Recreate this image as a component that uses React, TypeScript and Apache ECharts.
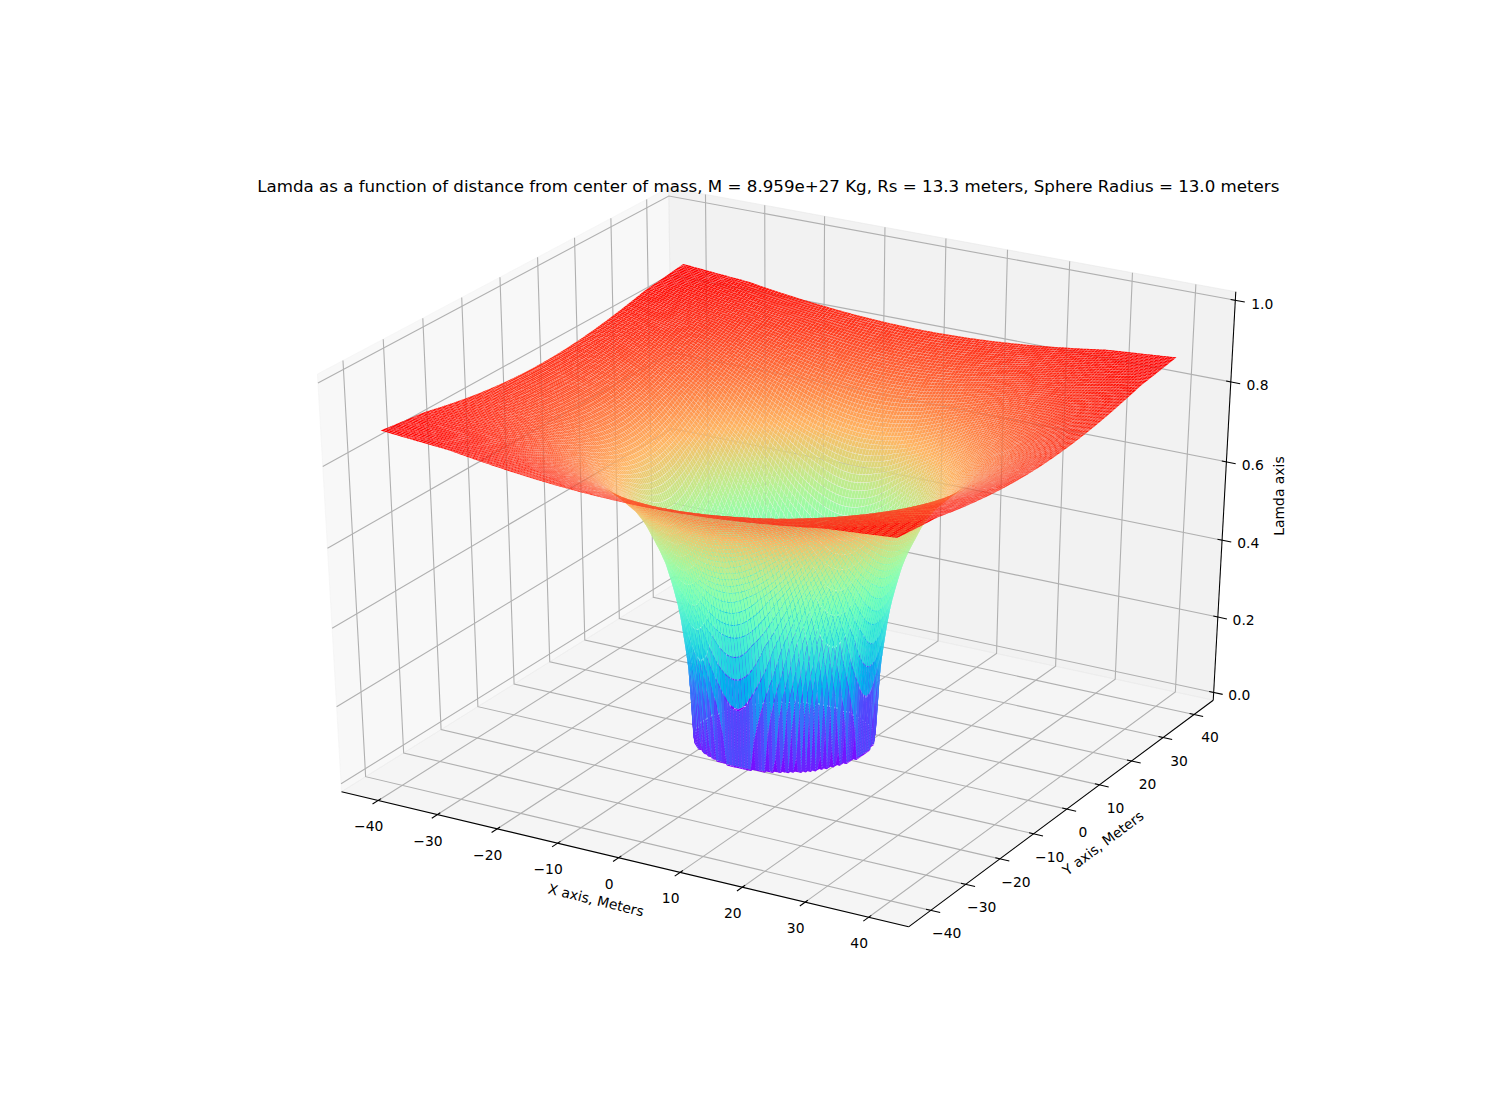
import React, { useEffect, useRef } from "react";
import * as echarts from "echarts";

const titleText =
  "Lamda as a function of distance from center of mass, M = 8.959e+27 Kg, Rs = 13.3 meters, Sphere Radius = 13.0 meters";
const xTicks = [-40, -30, -20, -10, 0, 10, 20, 30, 40];
const yTicks = [-40, -30, -20, -10, 0, 10, 20, 30, 40];
const zTicks = [0, 0.2, 0.4, 0.6, 0.8, 1.0];
const xAxisName = "X axis, Meters";
const yAxisName = "Y axis, Meters";
const zAxisName = "Lamda axis";

// radial profile: distance from the centre -> lamda
const profileRadius = [0, 13.3, 13.35, 13.4, 13.5, 13.6, 13.8, 14, 14.5, 15, 16, 17, 18, 20, 22, 25, 28, 32, 36, 40, 45, 50, 58];
const profileLamda = [0, 0, 0.06, 0.09, 0.12, 0.15, 0.19, 0.22, 0.28, 0.34, 0.41, 0.47, 0.51, 0.58, 0.63, 0.68, 0.725, 0.765, 0.795, 0.82, 0.84, 0.86, 0.875];

const surfaceHalf = 40.4;
const surfaceCells = 160;
const limHalf = 44.4;
const cellShrink = 0.95;
const FONT = "DejaVu Sans";
const FS = 13.89;

const RAD = Math.PI / 180;
const margin = 1 / 48;
const loX = -limHalf, hiX = limHalf;
const spanX = hiX - loX;
const boxLo = loX - spanX * margin, boxHi = hiX + spanX * margin;
const boxZLo = -margin, boxZHi = 1 + margin;

function viewOf(x: number, y: number, z: number) {
  const a = (x - loX) / spanX - 0.5;
  const b = (y - loX) / spanX - 0.5;
  const c = z - 0.5;
  const el = 30 * RAD, az = -60 * RAD;
  const n = [Math.cos(az) * Math.cos(el), Math.sin(az) * Math.cos(el), Math.sin(el)];
  const u = [-Math.sin(az), Math.cos(az), 0];
  const v = [n[1] * u[2] - n[2] * u[1], n[2] * u[0] - n[0] * u[2], n[0] * u[1] - n[1] * u[0]];
  return [u[0] * a + u[1] * b, v[0] * a + v[1] * b + v[2] * c, n[0] * a + n[1] * b + n[2] * c];
}
function project(x: number, y: number, z: number) {
  const [xv, yv, zv] = viewOf(x, y, z);
  const w = 10 - zv;
  return [784.4 + 6284 * (xv / w), 544.1 - 4575 * (yv / w)];
}
function lamdaAt(r: number) {
  const n = profileRadius.length;
  if (r <= profileRadius[0]) return profileLamda[0];
  if (r >= profileRadius[n - 1]) return profileLamda[n - 1];
  for (let i = 1; i < n; i++) {
    if (r <= profileRadius[i]) {
      const t = (r - profileRadius[i - 1]) / (profileRadius[i] - profileRadius[i - 1]);
      return profileLamda[i - 1] + t * (profileLamda[i] - profileLamda[i - 1]);
    }
  }
  return profileLamda[n - 1];
}
function rainbow(t: number) {
  const q = Math.round(Math.max(0, Math.min(1, t)) * 255) / 255;
  const r = Math.min(1, Math.abs(2 * q - 0.5));
  const g = Math.sin(Math.PI * q);
  const b = Math.cos((Math.PI * q) / 2);
  return `rgb(${Math.round(r * 255)},${Math.round(g * 255)},${Math.round(b * 255)})`;
}

function buildCells() {
  const step = (2 * surfaceHalf) / surfaceCells;
  const cells: { value: number[]; depth: number }[] = [];
  let lo = Infinity, hi = -Infinity;
  for (let i = 0; i < surfaceCells; i++) {
    for (let j = 0; j < surfaceCells; j++) {
      const x0 = -surfaceHalf + i * step, x1 = x0 + step;
      const y0 = -surfaceHalf + j * step, y1 = y0 + step;
      const rs = [Math.hypot(x0, y0), Math.hypot(x1, y0), Math.hypot(x1, y1), Math.hypot(x0, y1)];
      const zs = rs.map(lamdaAt);
      const avg = (zs[0] + zs[1] + zs[2] + zs[3]) / 4;
      lo = Math.min(lo, avg);
      hi = Math.max(hi, avg);
      const depth = viewOf((x0 + x1) / 2, (y0 + y1) / 2, avg)[2];
      cells.push({ value: [x0, y0, x1, y1, zs[0], zs[1], zs[2], zs[3], avg], depth });
    }
  }
  cells.sort((p, q) => p.depth - q.depth);
  return { data: cells.map((c) => c.value), lo, hi };
}

function pts(api: any, list: number[][]) {
  return list.map((p) => api.coord(project(p[0], p[1], p[2])));
}

function lineSeries(data: number[][], color: string, width: number, z: number) {
  return {
    type: "custom",
    coordinateSystem: "cartesian2d",
    silent: true,
    clip: false,
    z,
    progressive: 0,
    data,
    renderItem: (_p: any, api: any) => {
      const raw: number[][] = [];
      for (let k = 0; k < 9; k += 3) {
        const x = api.value(k);
        if (Number.isNaN(x) || x === undefined) break;
        raw.push([x, api.value(k + 1), api.value(k + 2)]);
      }
      return {
        type: "polyline",
        shape: { points: pts(api, raw) },
        style: { stroke: color, lineWidth: width, fill: "none" },
      };
    },
  };
}

function textSeries(items: { text: string; x: number; y: number; rot: number }[], z: number) {
  return {
    type: "custom",
    coordinateSystem: "cartesian2d",
    silent: true,
    clip: false,
    z,
    data: items.map((t) => [t.x, t.y, t.rot]),
    renderItem: (p: any, api: any) => {
      const c = api.coord([api.value(0), api.value(1)]);
      return {
        type: "text",
        x: c[0],
        y: c[1],
        rotation: (api.value(2) * Math.PI) / 180,
        style: {
          text: items[p.dataIndex].text,
          fill: "#000",
          font: `${FS}px "${FONT}"`,
          textAlign: "center",
          textVerticalAlign: "middle",
        },
      };
    },
  };
}

function tickLabel(v: number) {
  return (v < 0 ? "\u2212" : "") + Math.abs(v);
}

function buildOption() {
  const delta = spanX / 12;
  const grid: number[][] = [];
  const ticks: number[][] = [];
  const labels: { text: string; x: number; y: number; rot: number }[] = [];

  xTicks.forEach((t) => {
    grid.push([t, boxLo, boxZLo, t, boxHi, boxZLo, t, boxHi, boxZHi]);
    ticks.push([t, boxLo - 0.2 * delta, boxZLo, t, boxLo + 0.1 * delta, boxZLo]);
    const p = project(t, boxLo, boxZLo);
    labels.push({ text: tickLabel(t), x: p[0] - 9.5, y: p[1] + 26, rot: 0 });
  });
  yTicks.forEach((t) => {
    grid.push([boxHi, t, boxZLo, boxLo, t, boxZLo, boxLo, t, boxZHi]);
    ticks.push([boxHi + 0.2 * delta, t, boxZLo, boxHi - 0.1 * delta, t, boxZLo]);
    const p = project(boxHi, t, boxZLo);
    labels.push({ text: tickLabel(t), x: p[0] + 16, y: p[1] + 23, rot: 0 });
  });
  zTicks.forEach((t) => {
    grid.push([boxHi, boxHi, t, boxLo, boxHi, t, boxLo, boxLo, t]);
    ticks.push([boxHi + 0.2 * delta, boxHi, t, boxHi - 0.1 * delta, boxHi, t]);
    const p = project(boxHi, boxHi, t);
    labels.push({ text: t.toFixed(1), x: p[0] + 25.5 + 1.5 * t, y: p[1] + 3 + 0.5 * t, rot: 0 });
  });
  const axisLines = [
    [boxLo, boxLo, boxZLo, boxHi, boxLo, boxZLo],
    [boxHi, boxLo, boxZLo, boxHi, boxHi, boxZLo],
    [boxHi, boxHi, boxZLo, boxHi, boxHi, boxZHi],
  ];
  labels.push({ text: xAxisName, x: 596, y: 900, rot: -13.7 });
  labels.push({ text: yAxisName, x: 1103, y: 843, rot: 36.8 });
  labels.push({ text: zAxisName, x: 1278.5, y: 496, rot: 90 });

  const panes = [
    { c: "rgba(242,242,242,0.5)", p: [[boxLo, boxLo, boxZLo], [boxLo, boxHi, boxZLo], [boxLo, boxHi, boxZHi], [boxLo, boxLo, boxZHi]] },
    { c: "rgba(230,230,230,0.5)", p: [[boxLo, boxHi, boxZLo], [boxHi, boxHi, boxZLo], [boxHi, boxHi, boxZHi], [boxLo, boxHi, boxZHi]] },
    { c: "rgba(236,236,236,0.5)", p: [[boxLo, boxLo, boxZLo], [boxHi, boxLo, boxZLo], [boxHi, boxHi, boxZLo], [boxLo, boxHi, boxZLo]] },
  ];

  const { data, lo, hi } = buildCells();

  return {
    animation: false,
    backgroundColor: "#fff",
    title: {
      text: titleText,
      left: 763.25,
      top: 173,
      textAlign: "center",
      textStyle: { fontFamily: FONT, fontSize: 16.67, fontWeight: "normal", color: "#000" },
    },
    grid: { left: 0, right: 0, top: 0, bottom: 0 },
    xAxis: { type: "value", min: 0, max: 1500, show: false },
    yAxis: { type: "value", min: 0, max: 1100, inverse: true, show: false },
    series: [
      {
        type: "custom",
        coordinateSystem: "cartesian2d",
        silent: true,
        clip: false,
        z: 1,
        data: panes.map((_, i) => [i, 0]),
        renderItem: (p: any, api: any) => {
          const pane = panes[p.dataIndex];
          return {
            type: "polygon",
            shape: { points: pts(api, pane.p) },
            style: { fill: pane.c, stroke: pane.c, lineWidth: 1 },
          };
        },
      },
      lineSeries(grid, "#b0b0b0", 1.1, 2),
      lineSeries(axisLines, "#000", 1.05, 3),
      lineSeries(ticks, "#000", 1.05, 3),
      textSeries(labels, 4),
      {
        type: "custom",
        coordinateSystem: "cartesian2d",
        silent: true,
        clip: false,
        z: 5,
        progressive: 0,
        data,
        renderItem: (_p: any, api: any) => {
          const x0 = api.value(0), y0 = api.value(1), x1 = api.value(2), y1 = api.value(3);
          const raw = pts(api, [
            [x0, y0, api.value(4)],
            [x1, y0, api.value(5)],
            [x1, y1, api.value(6)],
            [x0, y1, api.value(7)],
          ]);
          const cx = (raw[0][0] + raw[1][0] + raw[2][0] + raw[3][0]) / 4;
          const cy = (raw[0][1] + raw[1][1] + raw[2][1] + raw[3][1]) / 4;
          return {
            type: "polygon",
            shape: {
              points: raw.map((q: number[]) => [cx + (q[0] - cx) * cellShrink, cy + (q[1] - cy) * cellShrink]),
            },
            style: { fill: rainbow((api.value(8) - lo) / (hi - lo)) },
          };
        },
      },
    ],
  };
}

export default function App() {
  const ref = useRef<HTMLDivElement>(null);
  useEffect(() => {
    const chart = echarts.init(ref.current!, undefined, { renderer: "svg" });
    chart.setOption(buildOption() as any);
    return () => chart.dispose();
  }, []);
  return (
    <div
      ref={ref}
      style={{ position: "absolute", left: 0, top: 0, width: 1500, height: 1100, background: "#fff" }}
    />
  );
}
